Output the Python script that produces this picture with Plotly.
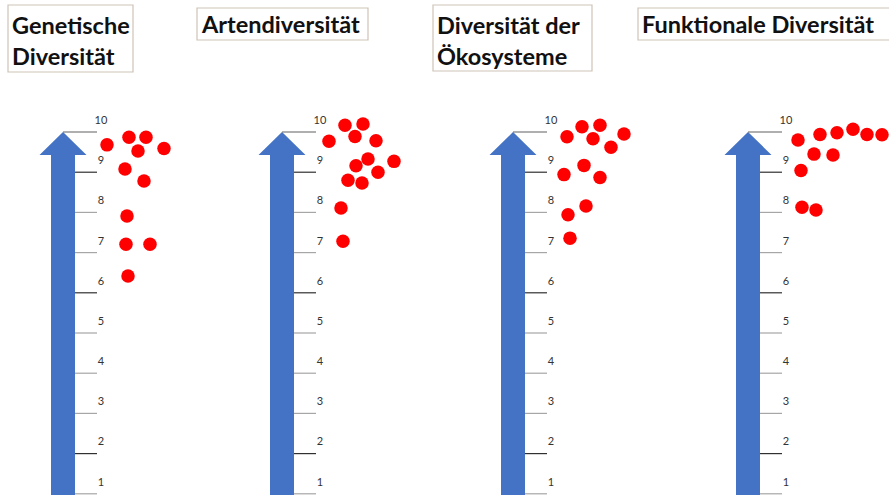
import plotly.graph_objects as go

# ---------------- data ----------------
titles = [["Genetische", "Diversität"], ["Artendiversität"],
          ["Diversität der", "Ökosysteme"], ["Funktionale Diversität"]]
tick_values = [1, 2, 3, 4, 5, 6, 7, 8, 9, 10]
tick_labels = ["1", "2", "3", "4", "5", "6", "7", "8", "9", "10"]

genetic_values = [9.68, 9.87, 9.87, 9.53, 9.59, 9.08, 8.78, 7.91, 7.21, 7.21, 6.42]
genetic_spread = [44, 66, 83, 75, 101, 62, 81, 64, 63, 87, 65]

species_values = [10.17, 10.20, 9.77, 9.89, 9.78, 9.33, 9.27, 9.16, 9.00, 8.80, 8.73, 8.11, 7.28]
species_spread = [63, 81, 47, 73, 94, 86, 112, 74, 96, 66, 80, 59, 61]

ecosystem_values = [9.88, 10.13, 10.17, 9.83, 9.62, 9.95, 8.94, 9.17, 8.87, 8.16, 7.94, 7.36]
ecosystem_spread = [54, 69, 87, 80, 98, 111, 51, 71, 87, 73, 55, 57]

functional_values = [9.80, 9.94, 9.98, 10.07, 9.94, 9.93, 9.45, 9.43, 9.04, 8.13, 8.06]
functional_spread = [50, 72, 89, 105, 119, 134, 66, 85, 53, 54, 68]

panels_values = [genetic_values, species_values, ecosystem_values, functional_values]
panels_spread = [genetic_spread, species_spread, ecosystem_spread, functional_spread]

# ---------------- layout constants ----------------
W, H = 889, 495
panel_centers = [63, 282, 513, 748]
Y_BOTTOM, Y_TOP = 0.970, 13.284
HEAD_BASE = 9.43
SHAFT_HALF, HEAD_HALF = 12, 23.5
TICK_END = 34
LABEL_DX = 38
ARROW_COLOR = "#4472C4"
DOT_COLOR = "#FF0000"
tick_colors = {10: "#606060", 9: "#303030", 6: "#303030", 2: "#303030"}

fig = go.Figure()
shapes = []

for c, vals, spread in zip(panel_centers, panels_values, panels_spread):
    # arrow
    path = (f"M {c-SHAFT_HALF},{Y_BOTTOM} L {c-SHAFT_HALF},{HEAD_BASE} "
            f"L {c-HEAD_HALF},{HEAD_BASE} L {c},{tick_values[-1]} "
            f"L {c+HEAD_HALF},{HEAD_BASE} L {c+SHAFT_HALF},{HEAD_BASE} "
            f"L {c+SHAFT_HALF},{Y_BOTTOM} Z")
    shapes.append(dict(type="path", path=path, xref="x", yref="y",
                       fillcolor=ARROW_COLOR, line=dict(width=0), layer="below"))
    # tick lines
    for v in tick_values:
        x0 = c if v == tick_values[-1] else c + SHAFT_HALF
        shapes.append(dict(type="line", xref="x", yref="y",
                           x0=x0, x1=c + TICK_END, y0=v, y1=v,
                           line=dict(color=tick_colors.get(v, "#a6a6a6"), width=1.2)))
    # tick labels
    fig.add_trace(go.Scatter(
        x=[c + LABEL_DX] * len(tick_values),
        y=[v + 0.27 for v in tick_values],
        mode="text", text=tick_labels, textposition="middle center",
        textfont=dict(family="Lato", size=11, color="#333333"),
        hoverinfo="skip", showlegend=False))
    # dots
    fig.add_trace(go.Scatter(
        x=[c + s for s in spread], y=vals, mode="markers",
        marker=dict(size=13.5, color=DOT_COLOR, line=dict(width=0)),
        showlegend=False))

# title boxes (pixel positions)
boxes = [(8, 133, 5, 72), (197, 368, 8, 40), (433, 592, 5, 71), (638, 900, 8, 40)]
line_y = [[25, 56], [24], [25, 56], [24]]
annotations = []
for (x0, x1, y0, y1), lines, ys in zip(boxes, titles, line_y):
    shapes.append(dict(type="rect", xref="paper", yref="paper",
                       x0=x0 / W, x1=x1 / W, y0=1 - y0 / H, y1=1 - y1 / H,
                       line=dict(color="#cdc3b6", width=1.2), fillcolor="white",
                       layer="below"))
    for txt, yy in zip(lines, ys):
        annotations.append(dict(
            text=f"<b>{txt}</b>", xref="paper", yref="paper",
            x=(x0 + 2) / W, y=1 - yy / H, xanchor="left", yanchor="middle",
            showarrow=False,
            font=dict(family="Lato", size=23.5, color="#111111")))

fig.update_layout(
    width=W, height=H,
    margin=dict(l=0, r=0, t=0, b=0),
    paper_bgcolor="white", plot_bgcolor="white",
    xaxis=dict(range=[0, W], visible=False, fixedrange=True),
    yaxis=dict(range=[Y_BOTTOM, Y_TOP], visible=False, fixedrange=True),
    shapes=shapes, annotations=annotations,
)

fig.write_html("out.html", config={"displayModeBar": False},
               post_script="document.body.style.margin='0';document.body.style.overflow='hidden';")
